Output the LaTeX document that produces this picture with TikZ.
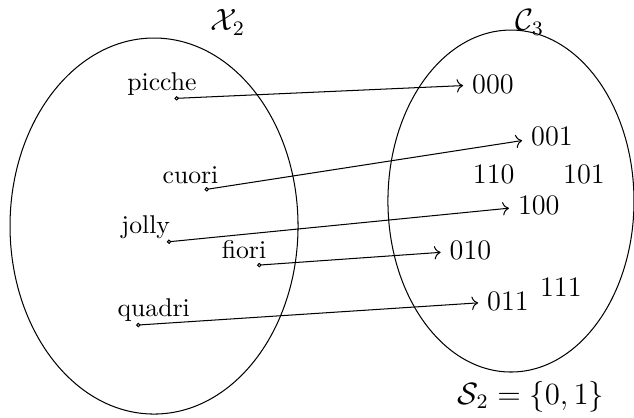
\documentclass[tikz,border=0pt]{standalone}
\usetikzlibrary{arrows.meta}
\begin{document}
\begin{tikzpicture}[bit/.style={font=\fontsize{11}{13}\selectfont,anchor=base},
  carta/.style={anchor=base},
  freccia/.style={{Circle[open,length=1.7pt,width=1.7pt]}->,shorten <=-0.85pt}]
\useasboundingbox (0,0) rectangle (8.673,5.705);
% i due insiemi
\draw (2.107,2.613) ellipse (1.970 and 2.572);
\draw (6.990,2.955) ellipse (1.683 and 2.339);
\node[font=\large] (X2) at (3.119,5.40) {$\mathcal{X}_2$};
\node[font=\large] (C3) at (7.250,5.40) {$\mathcal{C}_3$};
\node[font=\large] (S2) at (7.264,0.28) {$\mathcal{S}_2=\{0,1\}$};
% semi
\node[carta] (picche) at (2.216,4.473) {picche};
\node[carta] (cuori) at (2.606,3.197) {cuori};
\node[carta] (jolly) at (1.993,2.513) {jolly};
\node[carta] (fiori) at (3.338,2.171) {fiori};
\node[carta] (quadri) at (2.103,1.382) {quadri};
\coordinate (dpicche) at (2.417,4.360);
\coordinate (dcuori) at (2.828,3.115);
\coordinate (djolly) at (2.312,2.398);
\coordinate (dfiori) at (3.547,2.079);
\coordinate (dquadri) at (1.892,1.259);
% parole di codice
\node[bit] (b000) at (6.744,4.428) {000};
\node[bit] (b001) at (7.551,3.721) {001};
\node[bit] (b110) at (6.754,3.197) {110};
\node[bit] (b101) at (7.989,3.197) {101};
\node[bit] (b100) at (7.371,2.773) {100};
\node[bit] (b010) at (6.436,2.157) {010};
\node[bit] (b011) at (6.949,1.464) {011};
\node[bit] (b111) at (7.672,1.646) {111};
% codifica
\draw[freccia] (dpicche) -- (b000);
\draw[freccia] (dcuori) -- (b001);
\draw[freccia] (djolly) -- (b100);
\draw[freccia] (dfiori) -- (b010);
\draw[freccia] (dquadri) -- (b011);
\end{tikzpicture}
\end{document}
